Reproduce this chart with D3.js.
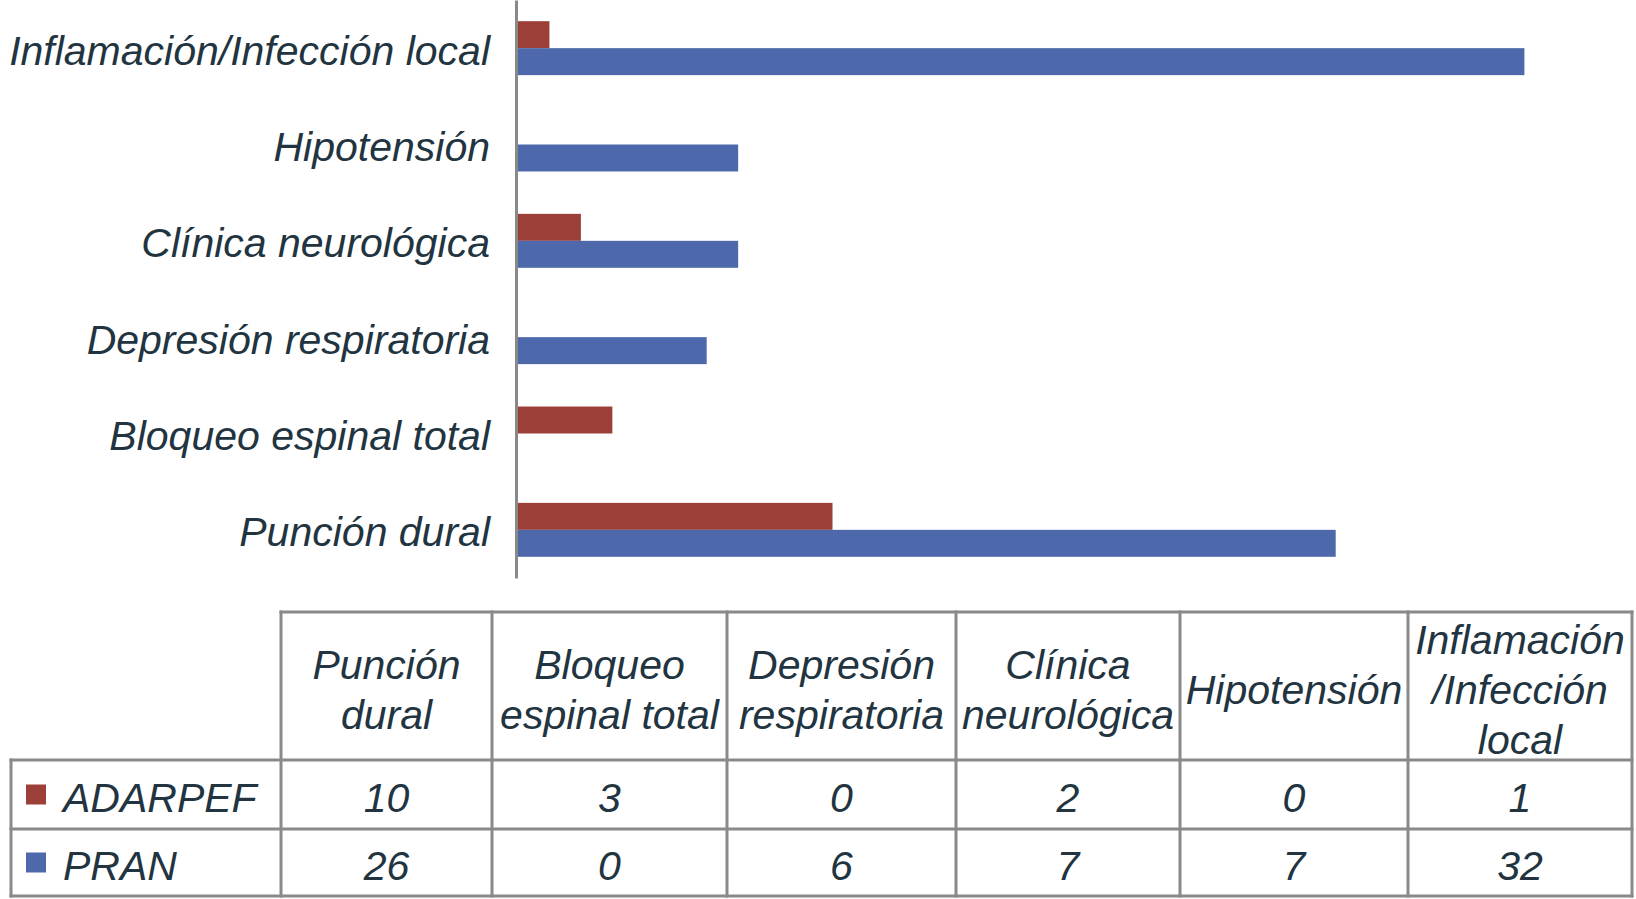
<!DOCTYPE html>
<html>
<head>
<meta charset="utf-8">
<script src="https://cdn.jsdelivr.net/npm/d3@7"></script>
<style>
  body { margin: 0; background: #fff; }
  svg text { font-family: "Liberation Sans", Arial, sans-serif; font-style: italic; fill: #22343f; }
</style>
</head>
<body>
<svg id="chart" width="1636" height="899"></svg>
<script>
"use strict";

// données
var categories = ["Punción dural", "Bloqueo espinal total", "Depresión respiratoria",
                  "Clínica neurológica", "Hipotensión", "Inflamación/Infección local"];
var headerLines = [["Punción", "dural"], ["Bloqueo", "espinal total"], ["Depresión", "respiratoria"],
                   ["Clínica", "neurológica"], ["Hipotensión"], ["Inflamación", "/Infección", "local"]];
var seriesNames = ["ADARPEF", "PRAN"];
var adarpef = [10, 3, 0, 2, 0, 1];
var pran = [26, 0, 6, 7, 7, 32];

var colors = { ADARPEF: "#9c3f38", PRAN: "#4d68ab" };
var series = [
  { name: "ADARPEF", values: adarpef },
  { name: "PRAN", values: pran }
];

var svg = d3.select("#chart");
var fontSize = 41;

// ---- graphique à barres ----
var x = d3.scaleLinear().domain([0, 35]).range([518, 518 + 35 * 31.45]);
var y = d3.scaleBand().domain(categories.slice().reverse()).range([0, 578])
  .paddingInner(0.44).paddingOuter(0.22);
var ySub = d3.scaleBand().domain(seriesNames).range([0, y.bandwidth()]);

var groups = svg.append("g").selectAll("g")
  .data(categories)
  .enter().append("g")
  .attr("transform", function (d) { return "translate(0," + y(d) + ")"; });

groups.selectAll("rect")
  .data(function (d, i) {
    return series.map(function (s) { return { name: s.name, value: s.values[i] }; });
  })
  .enter().append("rect")
  .attr("x", x(0))
  .attr("y", function (d) { return ySub(d.name); })
  .attr("height", ySub.bandwidth())
  .attr("width", function (d) { return x(d.value) - x(0); })
  .attr("fill", function (d) { return colors[d.name]; });

var yAxis = svg.append("g")
  .attr("transform", "translate(" + (x(0) - 2) + ",0)")
  .call(d3.axisLeft(y).tickSize(0).tickPadding(26));
yAxis.select(".domain").attr("stroke", "#898989").attr("stroke-width", 3);
yAxis.selectAll("text")
  .attr("font-size", fontSize)
  .attr("fill", "#22343f")
  .attr("dy", "0.4em")
  .style("font-family", "'Liberation Sans', Arial, sans-serif")
  .style("font-style", "italic");

// ---- tableau de données ----
var colEdges = [11, 281, 492, 727, 956, 1180, 1408, 1632];
var rowEdges = [612, 760, 829, 896];
var border = "#8a8a8a";
var table = svg.append("g");

// lignes horizontales
table.append("line").attr("x1", colEdges[1]).attr("x2", colEdges[7])
  .attr("y1", rowEdges[0]).attr("y2", rowEdges[0]);
rowEdges.slice(1).forEach(function (r) {
  table.append("line").attr("x1", colEdges[0]).attr("x2", colEdges[7]).attr("y1", r).attr("y2", r);
});
// lignes verticales
colEdges.forEach(function (c, i) {
  table.append("line").attr("x1", c).attr("x2", c)
    .attr("y1", i === 0 ? rowEdges[1] : rowEdges[0]).attr("y2", rowEdges[3]);
});
table.selectAll("line").attr("stroke", border).attr("stroke-width", 3).attr("stroke-linecap", "square");

// en-têtes
var headerCenter = (rowEdges[0] + rowEdges[1]) / 2 + 4;
var lineH = 50;
table.selectAll(".head")
  .data(headerLines)
  .enter().append("text")
  .attr("class", "head")
  .attr("text-anchor", "middle")
  .attr("font-size", fontSize)
  .each(function (lines, i) {
    var cx = (colEdges[i + 1] + colEdges[i + 2]) / 2;
    var y0 = headerCenter - (lines.length - 1) * lineH / 2;
    d3.select(this).selectAll("tspan")
      .data(lines)
      .enter().append("tspan")
      .attr("x", cx)
      .attr("y", function (d, k) { return y0 + k * lineH; })
      .attr("dy", "0.35em")
      .text(function (d) { return d; });
  });

// lignes de valeurs
series.forEach(function (s, r) {
  var cy = (rowEdges[r + 1] + rowEdges[r + 2]) / 2 + 3;
  table.append("rect")
    .attr("x", 26).attr("y", cy - 13).attr("width", 20).attr("height", 20)
    .attr("fill", colors[s.name]);
  table.append("text")
    .attr("x", 63).attr("y", cy).attr("dy", "0.35em")
    .attr("font-size", fontSize)
    .text(s.name);
  table.selectAll(".v" + r)
    .data(s.values)
    .enter().append("text")
    .attr("class", "v" + r)
    .attr("x", function (d, i) { return (colEdges[i + 1] + colEdges[i + 2]) / 2; })
    .attr("y", cy).attr("dy", "0.35em")
    .attr("text-anchor", "middle")
    .attr("font-size", fontSize)
    .text(function (d) { return d; });
});
</script>
</body>
</html>
